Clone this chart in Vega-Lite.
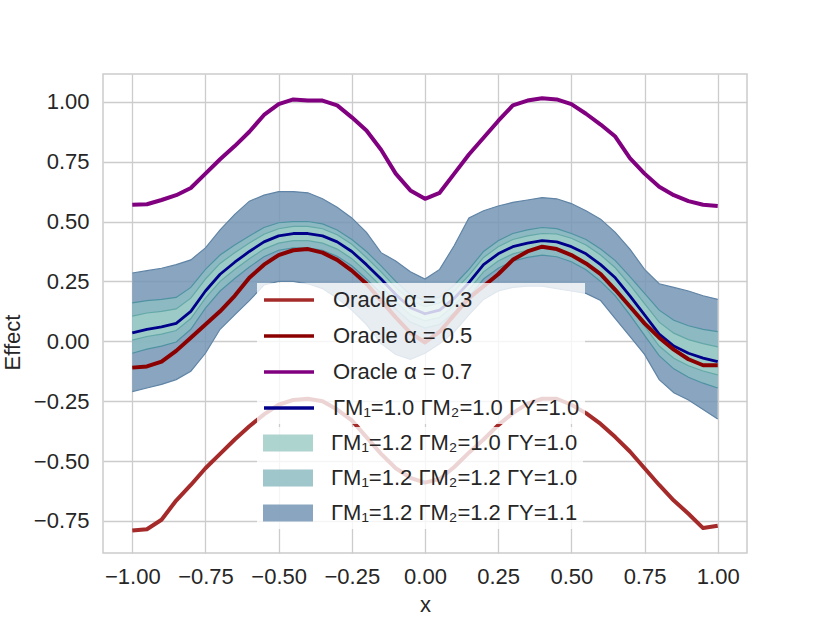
{
  "$schema": "https://vega.github.io/schema/vega-lite/v6.json",
  "width": 644,
  "height": 479,
  "autosize": {"type": "none"},
  "padding": {"left": 103, "top": 74, "right": 83, "bottom": 70},
  "background": "white",
  "config": {
    "font": "Liberation Sans",
    "view": {"stroke": "#cccccc", "strokeWidth": 1.5},
    "axis": {
      "grid": true, "gridColor": "#cccccc", "gridWidth": 1.3,
      "domain": false, "ticks": false,
      "labelFont": "Liberation Sans", "labelFontSize": 22, "labelColor": "#262626",
      "titleFont": "Liberation Sans", "titleFontSize": 22, "titleFontWeight": "normal", "titleColor": "#262626"
    },
    "legend": {
      "title": null, "orient": "none",
      "fillColor": "rgba(255,255,255,0.8)", "padding": 5,
      "labelFont": "Liberation Sans", "labelFontSize": 22, "labelColor": "#262626", "labelLimit": 400,
      "symbolSize": 400, "labelOffset": 47, "rowPadding": 13
    }
  },
  "data": {
    "values": [
      {"x": -1.00, "o3": -0.790, "o5": -0.110, "o7": 0.570, "g": 0.035, "a_lo": 0.005, "a_hi": 0.105, "b_lo": -0.050, "b_hi": 0.160, "c_lo": -0.210, "c_hi": 0.285},
      {"x": -0.95, "o3": -0.785, "o5": -0.105, "o7": 0.572, "g": 0.050, "a_lo": 0.020, "a_hi": 0.118, "b_lo": -0.033, "b_hi": 0.170, "c_lo": -0.195, "c_hi": 0.295},
      {"x": -0.90, "o3": -0.745, "o5": -0.085, "o7": 0.590, "g": 0.060, "a_lo": 0.030, "a_hi": 0.125, "b_lo": -0.020, "b_hi": 0.175, "c_lo": -0.180, "c_hi": 0.305},
      {"x": -0.85, "o3": -0.665, "o5": -0.040, "o7": 0.610, "g": 0.075, "a_lo": 0.045, "a_hi": 0.135, "b_lo": -0.003, "b_hi": 0.183, "c_lo": -0.160, "c_hi": 0.320},
      {"x": -0.80, "o3": -0.600, "o5": 0.015, "o7": 0.640, "g": 0.125, "a_lo": 0.095, "a_hi": 0.180, "b_lo": 0.050, "b_hi": 0.225, "c_lo": -0.125, "c_hi": 0.340},
      {"x": -0.75, "o3": -0.530, "o5": 0.070, "o7": 0.700, "g": 0.210, "a_lo": 0.180, "a_hi": 0.260, "b_lo": 0.138, "b_hi": 0.300, "c_lo": -0.050, "c_hi": 0.390},
      {"x": -0.70, "o3": -0.470, "o5": 0.125, "o7": 0.760, "g": 0.280, "a_lo": 0.250, "a_hi": 0.325, "b_lo": 0.210, "b_hi": 0.360, "c_lo": 0.050, "c_hi": 0.465},
      {"x": -0.65, "o3": -0.410, "o5": 0.190, "o7": 0.815, "g": 0.330, "a_lo": 0.300, "a_hi": 0.370, "b_lo": 0.262, "b_hi": 0.402, "c_lo": 0.110, "c_hi": 0.530},
      {"x": -0.60, "o3": -0.355, "o5": 0.265, "o7": 0.875, "g": 0.375, "a_lo": 0.345, "a_hi": 0.410, "b_lo": 0.310, "b_hi": 0.440, "c_lo": 0.170, "c_hi": 0.585},
      {"x": -0.55, "o3": -0.305, "o5": 0.320, "o7": 0.945, "g": 0.415, "a_lo": 0.385, "a_hi": 0.447, "b_lo": 0.353, "b_hi": 0.475, "c_lo": 0.235, "c_hi": 0.610},
      {"x": -0.50, "o3": -0.265, "o5": 0.360, "o7": 0.990, "g": 0.440, "a_lo": 0.410, "a_hi": 0.470, "b_lo": 0.380, "b_hi": 0.495, "c_lo": 0.250, "c_hi": 0.625},
      {"x": -0.45, "o3": -0.245, "o5": 0.380, "o7": 1.010, "g": 0.450, "a_lo": 0.420, "a_hi": 0.480, "b_lo": 0.390, "b_hi": 0.500, "c_lo": 0.250, "c_hi": 0.625},
      {"x": -0.40, "o3": -0.240, "o5": 0.385, "o7": 1.005, "g": 0.450, "a_lo": 0.420, "a_hi": 0.480, "b_lo": 0.390, "b_hi": 0.500, "c_lo": 0.240, "c_hi": 0.620},
      {"x": -0.35, "o3": -0.250, "o5": 0.370, "o7": 1.005, "g": 0.440, "a_lo": 0.410, "a_hi": 0.470, "b_lo": 0.380, "b_hi": 0.490, "c_lo": 0.220, "c_hi": 0.595},
      {"x": -0.30, "o3": -0.285, "o5": 0.340, "o7": 0.985, "g": 0.415, "a_lo": 0.385, "a_hi": 0.445, "b_lo": 0.355, "b_hi": 0.465, "c_lo": 0.180, "c_hi": 0.560},
      {"x": -0.25, "o3": -0.330, "o5": 0.295, "o7": 0.935, "g": 0.375, "a_lo": 0.345, "a_hi": 0.405, "b_lo": 0.315, "b_hi": 0.425, "c_lo": 0.130, "c_hi": 0.515},
      {"x": -0.20, "o3": -0.400, "o5": 0.240, "o7": 0.880, "g": 0.320, "a_lo": 0.290, "a_hi": 0.350, "b_lo": 0.260, "b_hi": 0.375, "c_lo": 0.070, "c_hi": 0.455},
      {"x": -0.15, "o3": -0.470, "o5": 0.170, "o7": 0.800, "g": 0.260, "a_lo": 0.230, "a_hi": 0.290, "b_lo": 0.200, "b_hi": 0.315, "c_lo": -0.010, "c_hi": 0.370},
      {"x": -0.10, "o3": -0.530, "o5": 0.100, "o7": 0.700, "g": 0.195, "a_lo": 0.165, "a_hi": 0.225, "b_lo": 0.135, "b_hi": 0.250, "c_lo": -0.055, "c_hi": 0.335},
      {"x": -0.05, "o3": -0.570, "o5": 0.035, "o7": 0.630, "g": 0.140, "a_lo": 0.110, "a_hi": 0.170, "b_lo": 0.080, "b_hi": 0.195, "c_lo": -0.075, "c_hi": 0.290},
      {"x": 0.00, "o3": -0.590, "o5": -0.005, "o7": 0.595, "g": 0.115, "a_lo": 0.085, "a_hi": 0.145, "b_lo": 0.055, "b_hi": 0.170, "c_lo": -0.050, "c_hi": 0.260},
      {"x": 0.05, "o3": -0.575, "o5": 0.040, "o7": 0.620, "g": 0.130, "a_lo": 0.100, "a_hi": 0.160, "b_lo": 0.070, "b_hi": 0.185, "c_lo": -0.010, "c_hi": 0.300},
      {"x": 0.10, "o3": -0.525, "o5": 0.110, "o7": 0.700, "g": 0.180, "a_lo": 0.150, "a_hi": 0.210, "b_lo": 0.120, "b_hi": 0.235, "c_lo": 0.040, "c_hi": 0.400},
      {"x": 0.15, "o3": -0.465, "o5": 0.180, "o7": 0.780, "g": 0.245, "a_lo": 0.215, "a_hi": 0.275, "b_lo": 0.185, "b_hi": 0.300, "c_lo": 0.110, "c_hi": 0.515},
      {"x": 0.20, "o3": -0.410, "o5": 0.230, "o7": 0.850, "g": 0.320, "a_lo": 0.290, "a_hi": 0.350, "b_lo": 0.260, "b_hi": 0.375, "c_lo": 0.175, "c_hi": 0.545},
      {"x": 0.25, "o3": -0.350, "o5": 0.280, "o7": 0.920, "g": 0.365, "a_lo": 0.335, "a_hi": 0.395, "b_lo": 0.305, "b_hi": 0.420, "c_lo": 0.210, "c_hi": 0.565},
      {"x": 0.30, "o3": -0.300, "o5": 0.340, "o7": 0.985, "g": 0.395, "a_lo": 0.365, "a_hi": 0.425, "b_lo": 0.335, "b_hi": 0.450, "c_lo": 0.225, "c_hi": 0.580},
      {"x": 0.35, "o3": -0.260, "o5": 0.375, "o7": 1.005, "g": 0.410, "a_lo": 0.380, "a_hi": 0.440, "b_lo": 0.350, "b_hi": 0.465, "c_lo": 0.230, "c_hi": 0.590},
      {"x": 0.40, "o3": -0.240, "o5": 0.395, "o7": 1.015, "g": 0.420, "a_lo": 0.390, "a_hi": 0.450, "b_lo": 0.360, "b_hi": 0.475, "c_lo": 0.230, "c_hi": 0.600},
      {"x": 0.45, "o3": -0.240, "o5": 0.385, "o7": 1.010, "g": 0.415, "a_lo": 0.382, "a_hi": 0.448, "b_lo": 0.353, "b_hi": 0.470, "c_lo": 0.220, "c_hi": 0.595},
      {"x": 0.50, "o3": -0.265, "o5": 0.360, "o7": 0.990, "g": 0.395, "a_lo": 0.360, "a_hi": 0.430, "b_lo": 0.332, "b_hi": 0.450, "c_lo": 0.210, "c_hi": 0.575},
      {"x": 0.55, "o3": -0.300, "o5": 0.325, "o7": 0.950, "g": 0.365, "a_lo": 0.328, "a_hi": 0.402, "b_lo": 0.299, "b_hi": 0.425, "c_lo": 0.200, "c_hi": 0.545},
      {"x": 0.60, "o3": -0.345, "o5": 0.280, "o7": 0.905, "g": 0.320, "a_lo": 0.280, "a_hi": 0.360, "b_lo": 0.250, "b_hi": 0.385, "c_lo": 0.170, "c_hi": 0.510},
      {"x": 0.65, "o3": -0.400, "o5": 0.215, "o7": 0.855, "g": 0.265, "a_lo": 0.223, "a_hi": 0.307, "b_lo": 0.190, "b_hi": 0.337, "c_lo": 0.095, "c_hi": 0.455},
      {"x": 0.70, "o3": -0.460, "o5": 0.145, "o7": 0.765, "g": 0.190, "a_lo": 0.145, "a_hi": 0.235, "b_lo": 0.110, "b_hi": 0.270, "c_lo": 0.020, "c_hi": 0.385},
      {"x": 0.75, "o3": -0.530, "o5": 0.075, "o7": 0.700, "g": 0.110, "a_lo": 0.063, "a_hi": 0.157, "b_lo": 0.025, "b_hi": 0.200, "c_lo": -0.055, "c_hi": 0.300},
      {"x": 0.80, "o3": -0.600, "o5": 0.015, "o7": 0.645, "g": 0.030, "a_lo": -0.020, "a_hi": 0.080, "b_lo": -0.060, "b_hi": 0.130, "c_lo": -0.160, "c_hi": 0.240},
      {"x": 0.85, "o3": -0.665, "o5": -0.035, "o7": 0.610, "g": -0.020, "a_lo": -0.071, "a_hi": 0.034, "b_lo": -0.115, "b_hi": 0.088, "c_lo": -0.215, "c_hi": 0.225},
      {"x": 0.90, "o3": -0.720, "o5": -0.075, "o7": 0.585, "g": -0.050, "a_lo": -0.102, "a_hi": 0.007, "b_lo": -0.150, "b_hi": 0.065, "c_lo": -0.245, "c_hi": 0.210},
      {"x": 0.95, "o3": -0.780, "o5": -0.100, "o7": 0.570, "g": -0.070, "a_lo": -0.124, "a_hi": -0.010, "b_lo": -0.175, "b_hi": 0.050, "c_lo": -0.285, "c_hi": 0.190},
      {"x": 1.00, "o3": -0.770, "o5": -0.100, "o7": 0.565, "g": -0.085, "a_lo": -0.140, "a_hi": -0.023, "b_lo": -0.195, "b_hi": 0.040, "c_lo": -0.325, "c_hi": 0.175}
    ]
  },
  "encoding": {
    "x": {
      "field": "x", "type": "quantitative",
      "scale": {"domain": [-1.1, 1.1], "nice": false, "zero": false},
      "axis": {"values": [-1, -0.75, -0.5, -0.25, 0, 0.25, 0.5, 0.75, 1], "format": ".2f", "title": "x", "labelPadding": 13, "titlePadding": 7}
    }
  },
  "layer": [
    {
      "mark": {"type": "area", "opacity": 0.85},
      "encoding": {
        "y": {
          "field": "c_lo", "type": "quantitative", "title": "Effect",
          "scale": {"domain": [-0.884, 1.116], "nice": false, "zero": false},
          "axis": {"values": [-0.75, -0.5, -0.25, 0, 0.25, 0.5, 0.75, 1], "format": ".2f", "labelPadding": 14, "titlePadding": 9, "titleY": 268}
        },
        "y2": {"field": "c_hi"},
        "fill": {
          "datum": "ΓM₁=1.2 ΓM₂=1.2 ΓY=1.1",
          "scale": {
            "domain": ["ΓM₁=1.2 ΓM₂=1.0 ΓY=1.0", "ΓM₁=1.2 ΓM₂=1.2 ΓY=1.0", "ΓM₁=1.2 ΓM₂=1.2 ΓY=1.1"],
            "range": ["#9fcdc7", "#8dbcc2", "#7595b4"]
          },
          "legend": {
            "legendX": 154, "legendY": 353,
            "symbolType": "M-1,-0.85H4V0.85H-1Z"
          }
        }
      }
    },
    {
      "mark": {"type": "line", "color": "#5f84a6", "strokeWidth": 1.2},
      "encoding": {"y": {"field": "c_lo", "type": "quantitative", "title": "Effect"}}
    },
    {
      "mark": {"type": "line", "color": "#5f84a6", "strokeWidth": 1.2},
      "encoding": {"y": {"field": "c_hi", "type": "quantitative", "title": "Effect"}}
    },
    {
      "mark": {"type": "area", "opacity": 0.85},
      "encoding": {
        "y": {"field": "b_lo", "type": "quantitative", "title": "Effect"},
        "y2": {"field": "b_hi"},
        "fill": {"datum": "ΓM₁=1.2 ΓM₂=1.2 ΓY=1.0"}
      }
    },
    {
      "mark": {"type": "line", "color": "#4f93a3", "strokeWidth": 1.2},
      "encoding": {"y": {"field": "b_lo", "type": "quantitative", "title": "Effect"}}
    },
    {
      "mark": {"type": "line", "color": "#4f93a3", "strokeWidth": 1.2},
      "encoding": {"y": {"field": "b_hi", "type": "quantitative", "title": "Effect"}}
    },
    {
      "mark": {"type": "area", "opacity": 0.85},
      "encoding": {
        "y": {"field": "a_lo", "type": "quantitative", "title": "Effect"},
        "y2": {"field": "a_hi"},
        "fill": {"datum": "ΓM₁=1.2 ΓM₂=1.0 ΓY=1.0"}
      }
    },
    {
      "mark": {"type": "line", "color": "#64a8a8", "strokeWidth": 1.2},
      "encoding": {"y": {"field": "a_lo", "type": "quantitative", "title": "Effect"}}
    },
    {
      "mark": {"type": "line", "color": "#64a8a8", "strokeWidth": 1.2},
      "encoding": {"y": {"field": "a_hi", "type": "quantitative", "title": "Effect"}}
    },
    {
      "mark": {"type": "line", "strokeWidth": 2.8, "strokeJoin": "round"},
      "encoding": {
        "y": {"field": "g", "type": "quantitative", "title": "Effect"},
        "stroke": {
          "datum": "ΓM₁=1.0 ΓM₂=1.0 ΓY=1.0",
          "scale": {
            "domain": ["Oracle α = 0.3", "Oracle α = 0.5", "Oracle α = 0.7", "ΓM₁=1.0 ΓM₂=1.0 ΓY=1.0"],
            "range": ["#a52a2a", "#8b0000", "#800080", "#00008b"]
          },
          "legend": {
            "legendX": 154, "legendY": 209,
            "symbolType": "M-1,0H4", "symbolStrokeWidth": 3.6
          }
        }
      }
    },
    {
      "mark": {"type": "line", "strokeWidth": 4, "strokeJoin": "round"},
      "encoding": {
        "y": {"field": "o5", "type": "quantitative", "title": "Effect"},
        "stroke": {"datum": "Oracle α = 0.5"}
      }
    },
    {
      "mark": {"type": "line", "strokeWidth": 4, "strokeJoin": "round"},
      "encoding": {
        "y": {"field": "o3", "type": "quantitative", "title": "Effect"},
        "stroke": {"datum": "Oracle α = 0.3"}
      }
    },
    {
      "mark": {"type": "line", "strokeWidth": 4, "strokeJoin": "round"},
      "encoding": {
        "y": {"field": "o7", "type": "quantitative", "title": "Effect"},
        "stroke": {"datum": "Oracle α = 0.7"}
      }
    }
  ]
}
